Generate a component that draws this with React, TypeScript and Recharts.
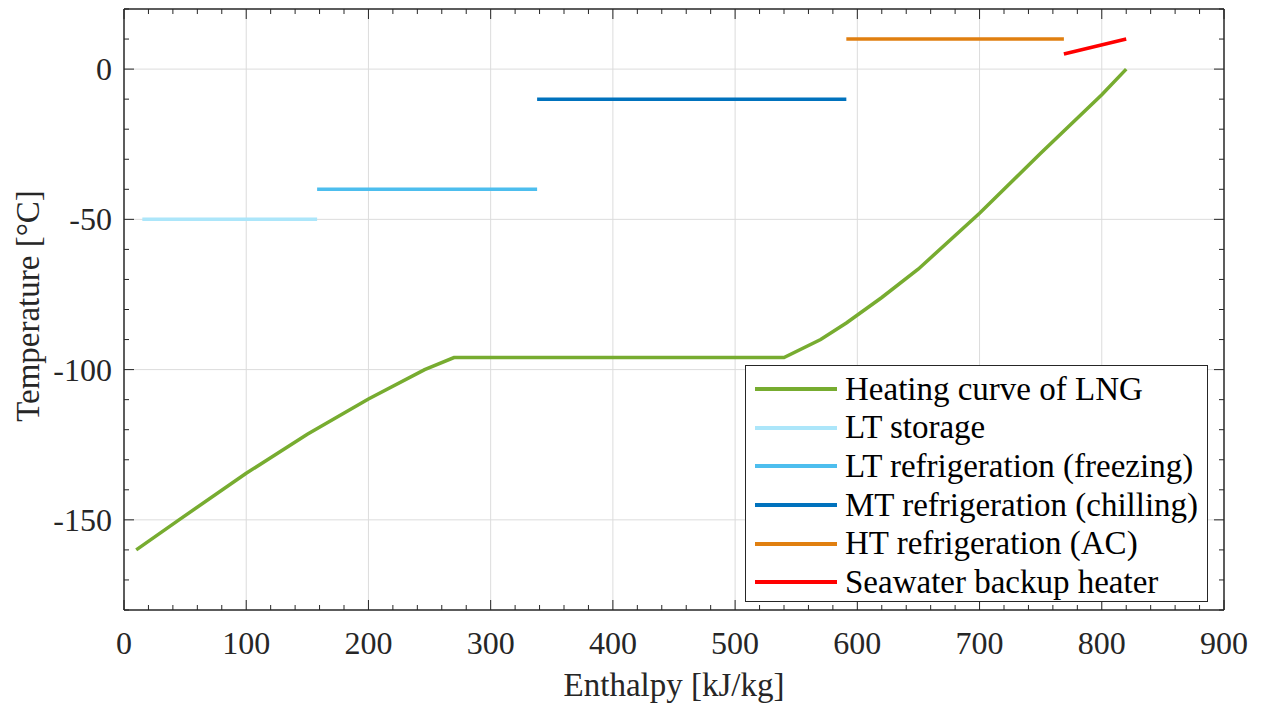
import React from 'react';
import { ComposedChart, Line, XAxis, YAxis, CartesianGrid, Legend } from 'recharts';

// Heating curve of LNG
const lngEnthalpy = [10, 45, 100, 150, 200, 246, 270, 540, 570, 591, 620, 650, 700, 750, 800, 820];
const lngTemp = [-160, -150, -134.5, -121.5, -109.8, -100, -96, -96, -90, -84.5, -76, -66.5, -48, -28, -8.5, 0];

// Temperature levels
const ltStorageH = [15, 158];
const ltStorageT = [-50, -50];
const ltRefH = [158, 338];
const ltRefT = [-40, -40];
const mtRefH = [338, 591];
const mtRefT = [-10, -10];
const htRefH = [591, 769];
const htRefT = [10, 10];
const seaH = [769, 820];
const seaT = [5, 10];

// Ticks
const xTicks = [0, 20, 40, 60, 80, 100, 120, 140, 160, 180, 200, 220, 240, 260, 280, 300, 320, 340, 360, 380, 400, 420, 440, 460, 480, 500, 520, 540, 560, 580, 600, 620, 640, 660, 680, 700, 720, 740, 760, 780, 800, 820, 840, 860, 880, 900];
const yTicks = [-180, -170, -160, -150, -140, -130, -120, -110, -100, -90, -80, -70, -60, -50, -40, -30, -20, -10, 0, 10, 20];
const xGrid = [100, 200, 300, 400, 500, 600, 700, 800];
const yGrid = [-150, -100, -50, 0];

const AX = '#262626';
const FONT = '"Liberation Serif", "Times New Roman", serif';
const FS = 32;
const FS_T = 33;

const toPoints = (hs: number[], ts: number[]) => hs.map((h, i) => ({ h, t: ts[i] }));

const series = [
  { name: 'Heating curve of LNG', color: '#77AC30', data: toPoints(lngEnthalpy, lngTemp) },
  { name: 'LT storage', color: '#ACE6FA', data: toPoints(ltStorageH, ltStorageT) },
  { name: 'LT refrigeration (freezing)', color: '#4DBEEE', data: toPoints(ltRefH, ltRefT) },
  { name: 'MT refrigeration (chilling)', color: '#0072BD', data: toPoints(mtRefH, mtRefT) },
  { name: 'HT refrigeration (AC)', color: '#E07F10', data: toPoints(htRefH, htRefT) },
  { name: 'Seawater backup heater', color: '#FF0000', data: toPoints(seaH, seaT) },
];

const BottomTick = (props: any) => {
  const { x, y, payload } = props;
  const v = payload.value;
  const major = v % 100 === 0;
  return (
    <g>
      <line x1={x} y1={y} x2={x} y2={y - (major ? 10 : 5)} stroke={AX} strokeWidth={1} />
      {major && (
        <text x={x} y={y + 44} textAnchor="middle" fontFamily={FONT} fontSize={FS} fill={AX}>
          {v}
        </text>
      )}
    </g>
  );
};

const TopTick = (props: any) => {
  const { x, y, payload } = props;
  const major = payload.value % 100 === 0;
  return <line x1={x} y1={y} x2={x} y2={y + (major ? 10 : 5)} stroke={AX} strokeWidth={1} />;
};

const LeftTick = (props: any) => {
  const { x, y, payload } = props;
  const v = payload.value;
  const major = v % 50 === 0;
  return (
    <g>
      <line x1={x} y1={y} x2={x + (major ? 10 : 5)} y2={y} stroke={AX} strokeWidth={1} />
      {major && (
        <text x={x - 12} y={y + 11} textAnchor="end" fontFamily={FONT} fontSize={FS} fill={AX}>
          {v}
        </text>
      )}
    </g>
  );
};

const RightTick = (props: any) => {
  const { x, y, payload } = props;
  const major = payload.value % 50 === 0;
  return <line x1={x} y1={y} x2={x - (major ? 10 : 5)} y2={y} stroke={AX} strokeWidth={1} />;
};

const LegendBox = () => (
  <div
    style={{
      boxSizing: 'border-box',
      width: 463,
      height: 237,
      border: `1.5px solid ${AX}`,
      background: '#fff',
      padding: '4px 0 0 0',
      fontFamily: FONT,
      fontSize: FS_T,
      color: '#000',
    }}
  >
    {series.map((s) => (
      <div key={s.name} style={{ display: 'flex', alignItems: 'center', height: 38.6, whiteSpace: 'nowrap' }}>
        <div style={{ width: 82, height: 4, background: s.color, marginLeft: 9, marginRight: 8 }} />
        <span>{s.name}</span>
      </div>
    ))}
  </div>
);

export default function App() {
  return (
    <div style={{ position: 'absolute', left: 0, top: 0, width: 1261, height: 704, background: '#fff' }}>
      <ComposedChart width={1261} height={704} margin={{ top: 8, right: 36, bottom: 93, left: 123 }}>
        <CartesianGrid
          xAxisId="b"
          yAxisId="l"
          stroke="#dcdcdc"
          strokeWidth={1}
          verticalValues={xGrid}
          horizontalValues={yGrid}
        />
        <XAxis
          xAxisId="b"
          dataKey="h"
          type="number"
          domain={[0, 900]}
          ticks={xTicks}
          interval={0}
          orientation="bottom"
          height={1}
          tickSize={0}
          tickMargin={0}
          tickLine={false}
          axisLine={{ stroke: AX, strokeWidth: 1.5 }}
          tick={(p: any) => <BottomTick {...p} />}
          allowDataOverflow
        />
        <XAxis
          xAxisId="t"
          dataKey="h"
          type="number"
          domain={[0, 900]}
          ticks={xTicks}
          interval={0}
          orientation="top"
          height={1}
          tickSize={0}
          tickMargin={0}
          tickLine={false}
          axisLine={{ stroke: AX, strokeWidth: 1.5 }}
          tick={(p: any) => <TopTick {...p} />}
          allowDataOverflow
        />
        <YAxis
          yAxisId="l"
          type="number"
          domain={[-180, 20]}
          ticks={yTicks}
          interval={0}
          orientation="left"
          width={1}
          tickSize={0}
          tickMargin={0}
          tickLine={false}
          axisLine={{ stroke: AX, strokeWidth: 1.5 }}
          tick={(p: any) => <LeftTick {...p} />}
          allowDataOverflow
        />
        <YAxis
          yAxisId="r"
          type="number"
          domain={[-180, 20]}
          ticks={yTicks}
          interval={0}
          orientation="right"
          width={1}
          tickSize={0}
          tickMargin={0}
          tickLine={false}
          axisLine={{ stroke: AX, strokeWidth: 1.5 }}
          tick={(p: any) => <RightTick {...p} />}
          allowDataOverflow
        />
        {series.map((s) => (
          <Line
            key={s.name}
            xAxisId="b"
            yAxisId="l"
            data={s.data}
            dataKey="t"
            name={s.name}
            type="linear"
            stroke={s.color}
            strokeWidth={3.5}
            dot={false}
            activeDot={false}
            isAnimationActive={false}
          />
        ))}
        <Legend
          layout="horizontal"
          verticalAlign="middle"
          align="center"
          content={() => <LegendBox />}
          wrapperStyle={{ left: 745, top: 365, bottom: 'auto', right: 'auto', width: 'auto', height: 'auto' }}
        />
      </ComposedChart>
      <div
        style={{
          position: 'absolute',
          left: 674,
          top: 685,
          transform: 'translate(-50%, -50%)',
          fontFamily: FONT,
          fontSize: FS_T,
          color: AX,
          whiteSpace: 'nowrap',
        }}
      >
        Enthalpy [kJ/kg]
      </div>
      <div
        style={{
          position: 'absolute',
          left: 28,
          top: 306,
          transform: 'translate(-50%, -50%) rotate(-90deg)',
          fontFamily: FONT,
          fontSize: FS_T,
          color: AX,
          whiteSpace: 'nowrap',
        }}
      >
        Temperature [°C]
      </div>
    </div>
  );
}
